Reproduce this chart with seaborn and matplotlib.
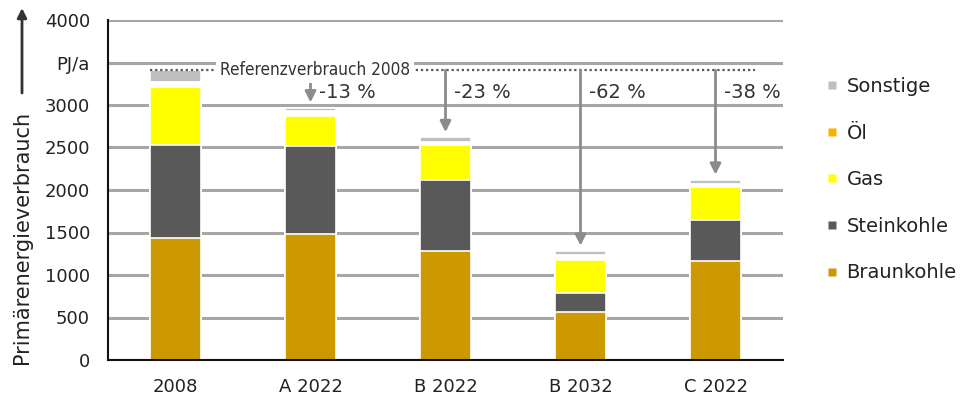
import numpy as np
import pandas as pd
import matplotlib
matplotlib.use("Agg")
import matplotlib.pyplot as plt
import seaborn as sns
from matplotlib.lines import Line2D

# Primärenergieverbrauch in PJ/a je Szenario und Energieträger
scenarios = ["2008", "A 2022", "B 2022", "B 2032", "C 2022"]
braunkohle = [1440, 1480, 1280, 570, 1165]
steinkohle = [1090, 1040, 840, 220, 485]
gas = [680, 355, 410, 385, 390]
oel = [55, 50, 40, 55, 35]
sonstige = [145, 45, 50, 55, 45]

carriers = ["Braunkohle", "Steinkohle", "Gas", "Öl", "Sonstige"]
legend_order = ["Sonstige", "Öl", "Gas", "Steinkohle", "Braunkohle"]
yticks = [0, 500, 1000, 1500, 2000, 2500, 3000, 3500, 4000]
ytick_labels = ["0", "500", "1000", "1500", "2000", "2500", "3000", "PJ/a", "4000"]

legend_colors = {"Braunkohle": "#cc9900", "Steinkohle": "#595959", "Gas": "#ffff00",
                 "Öl": "#f4b400", "Sonstige": "#bfbfbf"}
bar_colors = dict(legend_colors, **{"Öl": "#ffffff"})

values = {"Braunkohle": braunkohle, "Steinkohle": steinkohle, "Gas": gas,
          "Öl": oel, "Sonstige": sonstige}
df = pd.DataFrame([
    {"Szenario": s, "Träger": c, "Wert": values[c][i], "Rang": k}
    for k, c in enumerate(carriers) for i, s in enumerate(scenarios)
])
df = df.sort_values(["Szenario", "Rang"])
df["Kumuliert"] = df.groupby("Szenario")["Wert"].cumsum()

totals = df.groupby("Szenario")["Wert"].sum().reindex(scenarios).to_numpy()
ref = totals[0]

sns.set_style("white")
plt.rcParams["font.family"] = ["DejaVu Sans"]
plt.rcParams["text.color"] = "#222222"

fig = plt.figure(figsize=(9.64, 3.99), dpi=100)
ax = fig.add_axes([108 / 964, 1 - 360 / 399, (783 - 108) / 964, 340 / 399])

bw = 0.385
# stacked bars: draw cumulative heights from the top layer down
for c in reversed(carriers):
    sub = df[df["Träger"] == c]
    sns.barplot(data=sub, x="Szenario", y="Kumuliert", order=scenarios,
                color=bar_colors[c], saturation=1, width=bw, errorbar=None,
                edgecolor="white", linewidth=1.2, ax=ax)

ax.set_xlim(-0.5, len(scenarios) - 0.5)
ax.set_ylim(0, 4000)
ax.set_yticks(yticks)
ax.set_yticklabels(ytick_labels, fontsize=13)
ax.set_xticks(range(len(scenarios)))
ax.set_xticklabels(scenarios, fontsize=13)
ax.set_xticks(np.arange(0.5, len(scenarios), 1), minor=True)
ax.set_xlabel("")
ax.set_ylabel("")

ax.yaxis.grid(True, color="#a6a6a6", lw=2.2)
ax.set_axisbelow(True)
for side in ["top", "right"]:
    ax.spines[side].set_visible(False)
for side in ["left", "bottom"]:
    ax.spines[side].set_color("#111111")
    ax.spines[side].set_linewidth(1.5)
ax.tick_params(axis="y", length=5, width=1.5, direction="out", pad=8, colors="#111111",
               labelcolor="#222222")
ax.tick_params(axis="x", which="major", length=0, pad=13, labelcolor="#222222")
ax.tick_params(axis="x", which="minor", length=5, width=1.5, direction="out", colors="#111111")

# reference consumption line
ax.plot([-bw / 2, 4.29], [ref, ref], color="#555555", lw=1.6,
        linestyle=(0, (1, 1.3)), zorder=3)
ax.text(0.33, ref, "Referenzverbrauch 2008", ha="left", va="center", fontsize=12.3,
        fontstretch="condensed", color="#333333", zorder=4,
        bbox=dict(fc="white", ec="none", pad=3))

# arrows and relative change to the reference
for i in range(1, len(scenarios)):
    ax.annotate("", xy=(i, totals[i] + 60), xytext=(i, ref),
                arrowprops=dict(arrowstyle="-|>", color="#8c8c8c", lw=2,
                                mutation_scale=16, shrinkA=0, shrinkB=0), zorder=3)
    pct = round((totals[i] / ref - 1) * 100)
    ax.annotate(f"{pct} %", xy=(i, 3150), xytext=(6, 0), textcoords="offset points",
                ha="left", va="center", fontsize=14, color="#333333")

handles = [Line2D([0], [0], marker="s", ls="", markersize=5.5,
                  markerfacecolor=legend_colors[c], markeredgecolor="none", label=c)
           for c in legend_order]
fig.legend(handles=handles, loc="upper left", bbox_to_anchor=(826 / 964, 1 - 77 / 399),
           frameon=False, fontsize=14, labelspacing=1.42, handlelength=0.6,
           handletextpad=0.45, borderpad=0, borderaxespad=0)

fig.text(22 / 964, 1 - 364 / 399, "Primärenergieverbrauch", rotation=90,
         ha="center", va="bottom", fontsize=15, color="#222222")
ax.annotate("", xy=(22 / 964, 1 - 8 / 399), xycoords="figure fraction",
            xytext=(22 / 964, 1 - 93 / 399), textcoords="figure fraction",
            arrowprops=dict(arrowstyle="-|>", color="#333333", lw=2,
                            mutation_scale=14, shrinkA=0, shrinkB=0))

fig.savefig("out.png", dpi=100)
